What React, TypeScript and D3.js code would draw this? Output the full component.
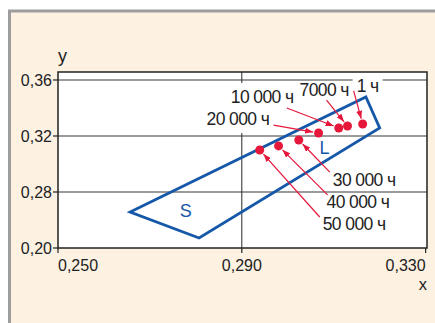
import React, { useEffect, useRef } from "react";
import * as d3 from "d3";

// ---- data ----
const polygonX = [0.2657, 0.317, 0.32, 0.2807];
const polygonY = [0.2514, 0.3479, 0.3257, 0.2143];

const pointLabels = ["1 ч", "7000 ч", "10 000 ч", "20 000 ч", "30 000 ч", "40 000 ч", "50 000 ч"];
const pointX = [0.3163, 0.313, 0.3111, 0.3067, 0.3024, 0.298, 0.2939];
const pointY = [0.3286, 0.3271, 0.3257, 0.3221, 0.3171, 0.3129, 0.31];

const xTicks = [0.25, 0.29, 0.33];
const xTickLabels = ["0,250", "0,290", "0,330"];
const yTicks = [0.2, 0.28, 0.32, 0.36];
const yTickLabels = ["0,20", "0,28", "0,32", "0,36"];
const xGrid = [0.29];
const yGrid = [0.28, 0.32, 0.36];

const regionLabels = ["S", "L"];
const regionX = [0.2778, 0.308];
const regionY = [0.2529, 0.3121];

// ---- layout (pixel offsets from each point) ----
const labelDx = [-6, -48, -108, -112, 34, 48, 63];
const labelDy = [-32, -30, -25, -8, 46, 62, 80];
const arrowDx = [-9, -21, -52, -45, 31, 49, 60];
const arrowDy = [-33, -26, -20, -8, 32, 49, 67];
const boxTop = [14, 12, 20, 20, 14, 14, 14];
const boxBottom = [3, 3, 8, 8, 4, 4, 4];

const W = 435;
const H = 323;
const FONT = "'Liberation Sans', Arial, sans-serif";
const RED = "#e5173b";
const BLUE = "#1658a8";

export default function App() {
  const ref = useRef<SVGSVGElement | null>(null);

  useEffect(() => {
    const svg = d3.select(ref.current);
    svg.selectAll("*").remove();

    const left = 58, right = 427, top = 72, bottom = 248;
    const x = d3.scaleLinear().domain([0.25, 0.3303]).range([left, right]);
    const y = d3.scaleLinear().domain([0.2, 0.28, 0.3657]).range([bottom, 192, top]);

    const defs = svg.append("defs");
    defs.append("marker")
      .attr("id", "arrowhead")
      .attr("markerUnits", "userSpaceOnUse")
      .attr("markerWidth", 8)
      .attr("markerHeight", 6)
      .attr("refX", 8)
      .attr("refY", 3)
      .attr("orient", "auto")
      .append("path")
      .attr("d", "M0,0 L8,3 L0,6 Z")
      .attr("fill", RED);

    // panel
    svg.append("rect")
      .attr("x", 9.5).attr("y", 11)
      .attr("width", W + 20).attr("height", H + 20)
      .attr("fill", "#fdf1e2")
      .attr("stroke", "#9d9d9d").attr("stroke-width", 3);

    // plot background
    svg.append("rect")
      .attr("x", left).attr("y", top)
      .attr("width", right - left).attr("height", bottom - top)
      .attr("fill", "#ffffff");

    // gridlines
    svg.append("g").selectAll("line").data(yGrid).join("line")
      .attr("x1", left).attr("x2", right)
      .attr("y1", (d) => y(d)).attr("y2", (d) => y(d))
      .attr("stroke", "#7a7a7a").attr("stroke-width", 1.5);
    svg.append("g").selectAll("line").data(xGrid).join("line")
      .attr("x1", (d) => x(d)).attr("x2", (d) => x(d))
      .attr("y1", top).attr("y2", bottom)
      .attr("stroke", "#2a2a2a").attr("stroke-width", 1);

    const boxG = svg.append("g");

    // frame
    svg.append("rect")
      .attr("x", left).attr("y", top)
      .attr("width", right - left).attr("height", bottom - top)
      .attr("fill", "none").attr("stroke", "#222").attr("stroke-width", 1.5);

    // y ticks
    const yAxis = svg.append("g");
    yAxis.selectAll("line").data(yTicks).join("line")
      .attr("x1", left - 5).attr("x2", left)
      .attr("y1", (d) => y(d)).attr("y2", (d) => y(d))
      .attr("stroke", "#222").attr("stroke-width", 1.2);
    yAxis.selectAll("text").data(yTicks).join("text")
      .attr("x", left - 6).attr("y", (d) => y(d))
      .attr("dy", "0.36em")
      .attr("text-anchor", "end")
      .attr("font-family", FONT).attr("font-size", 16).attr("fill", "#222")
      .text((d, i) => yTickLabels[i]);

    // x ticks
    const xAxis = svg.append("g");
    xAxis.selectAll("line").data(xTicks).join("line")
      .attr("x1", (d) => x(d)).attr("x2", (d) => x(d))
      .attr("y1", bottom).attr("y2", bottom + 5)
      .attr("stroke", "#222").attr("stroke-width", 1.2);
    xAxis.selectAll("text").data(xTicks).join("text")
      .attr("x", (d) => x(d)).attr("y", 271)
      .attr("text-anchor", (d, i) => (i === 0 ? "start" : i === xTicks.length - 1 ? "end" : "middle"))
      .attr("font-family", FONT).attr("font-size", 16).attr("fill", "#222")
      .text((d, i) => xTickLabels[i]);

    svg.append("text").attr("x", left).attr("y", 62)
      .attr("font-family", FONT).attr("font-size", 18).attr("fill", "#222").text("y");
    svg.append("text").attr("x", right).attr("y", 290).attr("text-anchor", "end")
      .attr("font-family", FONT).attr("font-size", 16.5).attr("fill", "#222").text("x");

    // polygon
    const poly = polygonX.map((px, i) => [x(px), y(polygonY[i])] as [number, number]);
    svg.append("path")
      .attr("d", d3.line()(poly) + "Z")
      .attr("fill", "none").attr("stroke", BLUE).attr("stroke-width", 2.8)
      .attr("stroke-linejoin", "miter");

    svg.append("g").selectAll("text").data(regionLabels).join("text")
      .attr("x", (d, i) => x(regionX[i])).attr("y", (d, i) => y(regionY[i]))
      .attr("dy", "0.36em").attr("text-anchor", "middle")
      .attr("font-family", FONT).attr("font-size", 18).attr("fill", BLUE)
      .text((d) => d);

    // points
    const r = 4.5;
    const pts = pointX.map((px, i) => ({ cx: x(px), cy: y(pointY[i]), i }));

    svg.append("g").selectAll("line").data(pts).join("line")
      .each(function (p) {
        const sx = p.cx + arrowDx[p.i], sy = p.cy + arrowDy[p.i];
        const dx = p.cx - sx, dy = p.cy - sy;
        const len = Math.hypot(dx, dy);
        const ex = p.cx - (dx / len) * (r + 1), ey = p.cy - (dy / len) * (r + 1);
        d3.select(this).attr("x1", sx).attr("y1", sy).attr("x2", ex).attr("y2", ey);
      })
      .attr("stroke", RED).attr("stroke-width", 1.2)
      .attr("marker-end", "url(#arrowhead)");

    svg.append("g").selectAll("circle").data(pts).join("circle")
      .attr("cx", (p) => p.cx).attr("cy", (p) => p.cy).attr("r", r)
      .attr("fill", RED);

    const labels = svg.append("g").selectAll("text").data(pts).join("text")
      .attr("x", (p) => p.cx + labelDx[p.i]).attr("y", (p) => p.cy + labelDy[p.i])
      .attr("font-family", FONT).attr("font-size", 17.5).attr("letter-spacing", -0.6)
      .attr("fill", "#222")
      .text((p) => pointLabels[p.i]);

    labels.each(function (p) {
      const bb = (this as SVGTextElement).getBBox();
      const by = p.cy + labelDy[p.i];
      boxG.append("rect")
        .attr("x", bb.x - 4).attr("y", by - boxTop[p.i])
        .attr("width", bb.width + 8).attr("height", boxTop[p.i] + boxBottom[p.i])
        .attr("fill", "#ffffff");
    });
  }, []);

  return (
    <svg
      ref={ref}
      width={W}
      height={H}
      style={{ position: "absolute", left: 0, top: 0, display: "block" }}
    />
  );
}
